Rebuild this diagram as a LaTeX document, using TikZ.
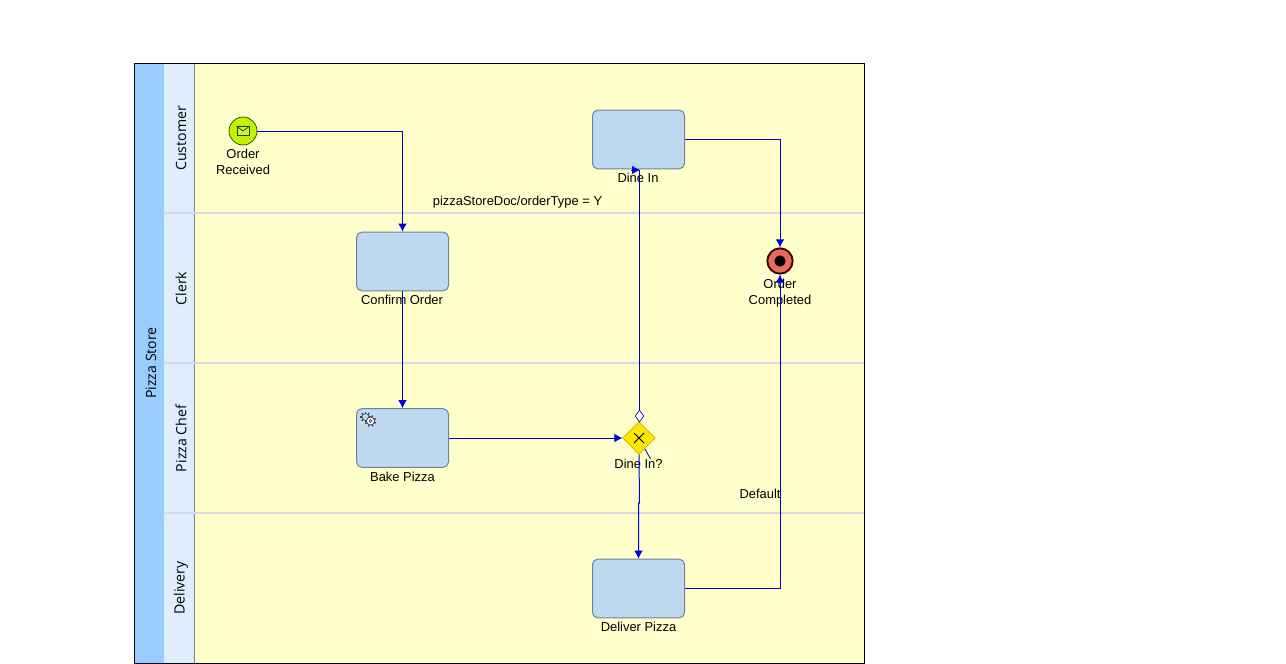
\documentclass[tikz,border=0pt]{standalone}
\usepackage{fontspec}
\setmainfont{Liberation Sans}
\newfontfamily\lanefont{Open Sans}
\usetikzlibrary{shapes,positioning,arrows.meta}

\definecolor{poolblue}{HTML}{99CCFF}
\definecolor{headblue}{HTML}{DFEDFE}
\definecolor{laneyellow}{HTML}{FFFFCC}
\definecolor{lanegrey}{HTML}{D9D9E3}
\definecolor{taskblue}{HTML}{BFD9F0}
\definecolor{taskedge}{HTML}{6E8496}
\definecolor{flowblue}{HTML}{0000DD}
\definecolor{startgreen}{HTML}{C6F000}
\definecolor{endred}{HTML}{EA6A60}
\definecolor{gateyellow}{HTML}{FFE600}

\begin{document}
\begin{tikzpicture}[x=0.75pt,y=-0.75pt]
  \tikzstyle{task}=[rectangle, draw=taskedge, fill=taskblue, line width=0.75pt, rounded corners=4pt, minimum width=69pt, minimum height=44pt, inner sep=0pt]
  \tikzstyle{caption}=[align=center, inner sep=0pt, font=\fontsize{9.7}{12}\selectfont]
  \tikzstyle{lanetitle}=[rotate=90, inner sep=0pt, font=\lanefont\fontsize{10.6}{12}\selectfont]
  \tikzstyle{line}=[draw=flowblue, line width=0.75pt, -{Latex[length=6pt,width=6.5pt]}]
  \tikzstyle{lanerule}=[draw=lanegrey, line width=1.1pt]

  \useasboundingbox (0,0) rectangle (1286,664);
  \fill[white] (0,0) rectangle (1286,664);

  % pool and lanes
  \fill[laneyellow] (135,63) rectangle (864,663);
  \fill[poolblue] (135,63) rectangle (164,663);
  \fill[headblue] (164,63) rectangle (194,663);
  \draw[draw=gray, line width=0.6pt] (194,63) -- (194,663);
  \draw[lanerule] (164,213) -- (864,213);
  \draw[lanerule] (164,363) -- (864,363);
  \draw[lanerule] (164,513) -- (864,513);
  \draw[black, line width=0.6pt] (134.5,63) rectangle (864.5,663.5);

  \node[lanetitle] (pool_title) at (151,363) {Pizza Store};
  \node[lanetitle] (customer_title) at (181,138.5) {Customer};
  \node[lanetitle] (clerk_title) at (181,288.5) {Clerk};
  \node[lanetitle] (chef_title) at (181,438.5) {Pizza Chef};
  \node[lanetitle] (delivery_title) at (181,588) {Delivery};

  % events
  \node[circle, draw=black!70!green, fill=startgreen, minimum size=21pt, inner sep=0pt, line width=0.5pt] (order_received) at (243,131) {};
  \node[rectangle, draw=black!70!green, fill=startgreen!80!white, minimum width=9pt, minimum height=6.5pt, inner sep=0pt, line width=0.5pt] (envelope) at (243,131) {};
  \draw[black!70!green, line width=0.5pt] (envelope.north west) -- (envelope.center) -- (envelope.north east);
  \node[circle, draw=black!80!red, fill=endred, minimum size=19pt, inner sep=0pt, line width=1.4pt] (order_completed) at (780,261) {};
  \node[circle, fill=black, minimum size=8.5pt, inner sep=0pt] (end_dot) at (780,261) {};

  % tasks
  \node[task] (dine_in) at (638.5,139.5) {};
  \node[task] (confirm_order) at (402.5,261.5) {};
  \node[task] (bake_pizza) at (402.5,438) {};
  \node[task] (deliver_pizza) at (638.5,588.5) {};

  % gear icon of the service task
  \foreach \a in {0,45,...,315} {
    \draw[black!75, line width=1pt] (365.5,417) ++(\a:3.6) -- ++(\a:1.8);
    \draw[black!75, line width=1pt] (370.5,421) ++(\a+20:3.8) -- ++(\a+20:2);
  }
  \draw[black!75, fill=taskblue, line width=0.5pt] (365.5,417) circle[radius=3.5];
  \draw[black!75, fill=white, line width=0.5pt] (370.5,421) circle[radius=4];
  \draw[black!75, fill=taskblue, line width=0.4pt] (370.5,421) circle[radius=1.6];

  % gateway
  \node[diamond, draw=gateyellow!70!black, fill=gateyellow, minimum width=24.5pt, minimum height=24.5pt, inner sep=0pt, line width=0.4pt] (dine_in_gate) at (639,438) {};
  \draw[black, line width=0.6pt] (634,433) -- (644,443);
  \draw[black, line width=0.6pt] (644,433) -- (634,443);

  % labels
  \node[caption] (order_received_label) at (243,162) {Order\\Received};
  \node[caption] (dine_in_label) at (638,178) {Dine In};
  \node[caption] (confirm_order_label) at (402,300) {Confirm Order};
  \node[caption] (bake_pizza_label) at (402.5,477) {Bake Pizza};
  \node[caption] (deliver_pizza_label) at (638.5,627) {Deliver Pizza};
  \node[caption] (order_completed_label) at (780,293) {Order\\Completed};
  \node[caption] (gate_label) at (638.5,464) {Dine In?};
  \node[caption] (orderType_label) at (517.5,202.5) {pizzaStoreDoc/orderType = Y};
  \node[caption] (default_label) at (760,494) {Default};

  % flows
  \coordinate (tip_start) at (631,170);
  \coordinate (tip_end) at (640,170);
  \coordinate (gate_tail) at (639.5,410);
  \draw [line] (order_received) -| (confirm_order.north);
  \draw [line] (confirm_order.south) -- (bake_pizza.north);
  \draw [line] (bake_pizza.east |- dine_in_gate) -- (dine_in_gate.west);
  \draw [draw=flowblue, line width=0.75pt] (gate_tail) -- (639.5,170);
  \draw [line] (tip_start) -- (tip_end);
  \node[diamond, draw=flowblue, fill=white, minimum width=6.5pt, minimum height=9pt, inner sep=0pt, line width=0.5pt] (tail_mark) at (639.5,416) {};
  \draw [line] (dine_in_gate.south) -- (639.5,503) -- (638.5,503) -- (deliver_pizza.north);
  \draw [flowblue!70!black, line width=0.6pt] (645,449) -- (650.5,459);
  \draw [line] (dine_in.east) -| (order_completed.north);
  \draw [line] (deliver_pizza.east) -| (order_completed.south);
\end{tikzpicture}
\end{document}
